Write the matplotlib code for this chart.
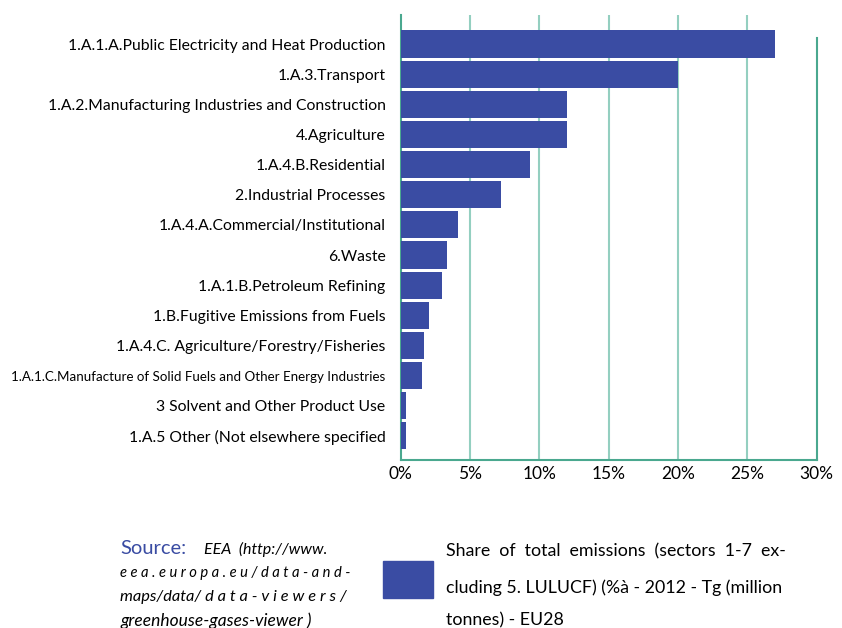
import matplotlib.pyplot as plt
import matplotlib.patches as mpatches

categories = [
    '1.A.1.A.Public Electricity and Heat Production',
    '1.A.3.Transport',
    '1.A.2.Manufacturing Industries and Construction',
    '4.Agriculture',
    '1.A.4.B.Residential',
    '2.Industrial Processes',
    '1.A.4.A.Commercial/Institutional',
    '6.Waste',
    '1.A.1.B.Petroleum Refining',
    '1.B.Fugitive Emissions from Fuels',
    '1.A.4.C. Agriculture/Forestry/Fisheries',
    '1.A.1.C.Manufacture of Solid Fuels and Other Energy Industries',
    '3 Solvent and Other Product Use',
    '1.A.5 Other (Not elsewhere specified',
]
shares = [27.0, 20.0, 12.0, 12.0, 9.3, 7.2, 4.1, 3.3, 3.0, 2.0, 1.7, 1.5, 0.4, 0.4]
xticks = [0, 5, 10, 15, 20, 25, 30]
xticklabels = ['0%', '5%', '10%', '15%', '20%', '25%', '30%']

bar_color = '#3a4ca3'
axis_color = '#4aa88f'
grid_color = '#94cfc0'

plt.rcParams['font.family'] = ['Lato', 'DejaVu Sans']

fig = plt.figure(figsize=(8.42, 6.28), dpi=100)
ax = fig.add_axes([0.476, 0.2675, 0.494, 0.7085])

ypos = list(range(len(categories)))
ax.barh(ypos, shares, height=0.9, color=bar_color, zorder=3)

ax.set_xlim(0, 30)
ax.set_ylim(13.8, -0.96)

for x in xticks[1:-1]:
    ax.axvline(x, color=grid_color, lw=1.5, zorder=1)

ax.spines['top'].set_visible(False)
for s in ['left', 'bottom', 'right']:
    ax.spines[s].set_color(axis_color)
    ax.spines[s].set_linewidth(1.5)
ax.spines['right'].set_bounds(13.8, -0.2)

ax.set_xticks(xticks)
ax.set_xticklabels(xticklabels, fontsize=12.5)
ax.set_yticks(ypos)
ax.set_yticklabels(categories, fontsize=11.3)
ax.get_yticklabels()[11].set_fontsize(9.6)
ax.tick_params(axis='both', length=0)
ax.tick_params(axis='y', pad=11)
ax.tick_params(axis='x', pad=4)

# footer: source and legend
fig.text(120 / 842, 1 - 548 / 628, 'Source:', color='#3a4ca3', fontsize=14.5, va='center')
fig.text(204 / 842, 1 - 549 / 628, 'EEA  (http://www.', fontsize=11.5, style='italic', va='center')
src_lines = ['e e a . e u r o p a . e u / d a t a - a n d -',
             'maps/data/ d a t a - v i e w e r s /',
             'greenhouse-gases-viewer )']
src_sizes = [10.6, 11.8, 12.5]
for i, (line, fs) in enumerate(zip(src_lines, src_sizes)):
    fig.text(120 / 842, 1 - (573 + i * 24) / 628, line, fontsize=fs, style='italic', va='center')

fig.patches.append(mpatches.Rectangle((383 / 842, 1 - 598 / 628), 50 / 842, 37 / 628,
                                      transform=fig.transFigure, color=bar_color))
leg_lines = ['Share  of  total  emissions  (sectors  1-7  ex-',
             'cluding 5. LULUCF) (%à - 2012 - Tg (million',
             'tonnes) - EU28']
for line, y in zip(leg_lines, [551, 588, 620]):
    fig.text(446 / 842, 1 - y / 628, line, fontsize=12.8, va='center')

fig.savefig('out.png', dpi=100)
